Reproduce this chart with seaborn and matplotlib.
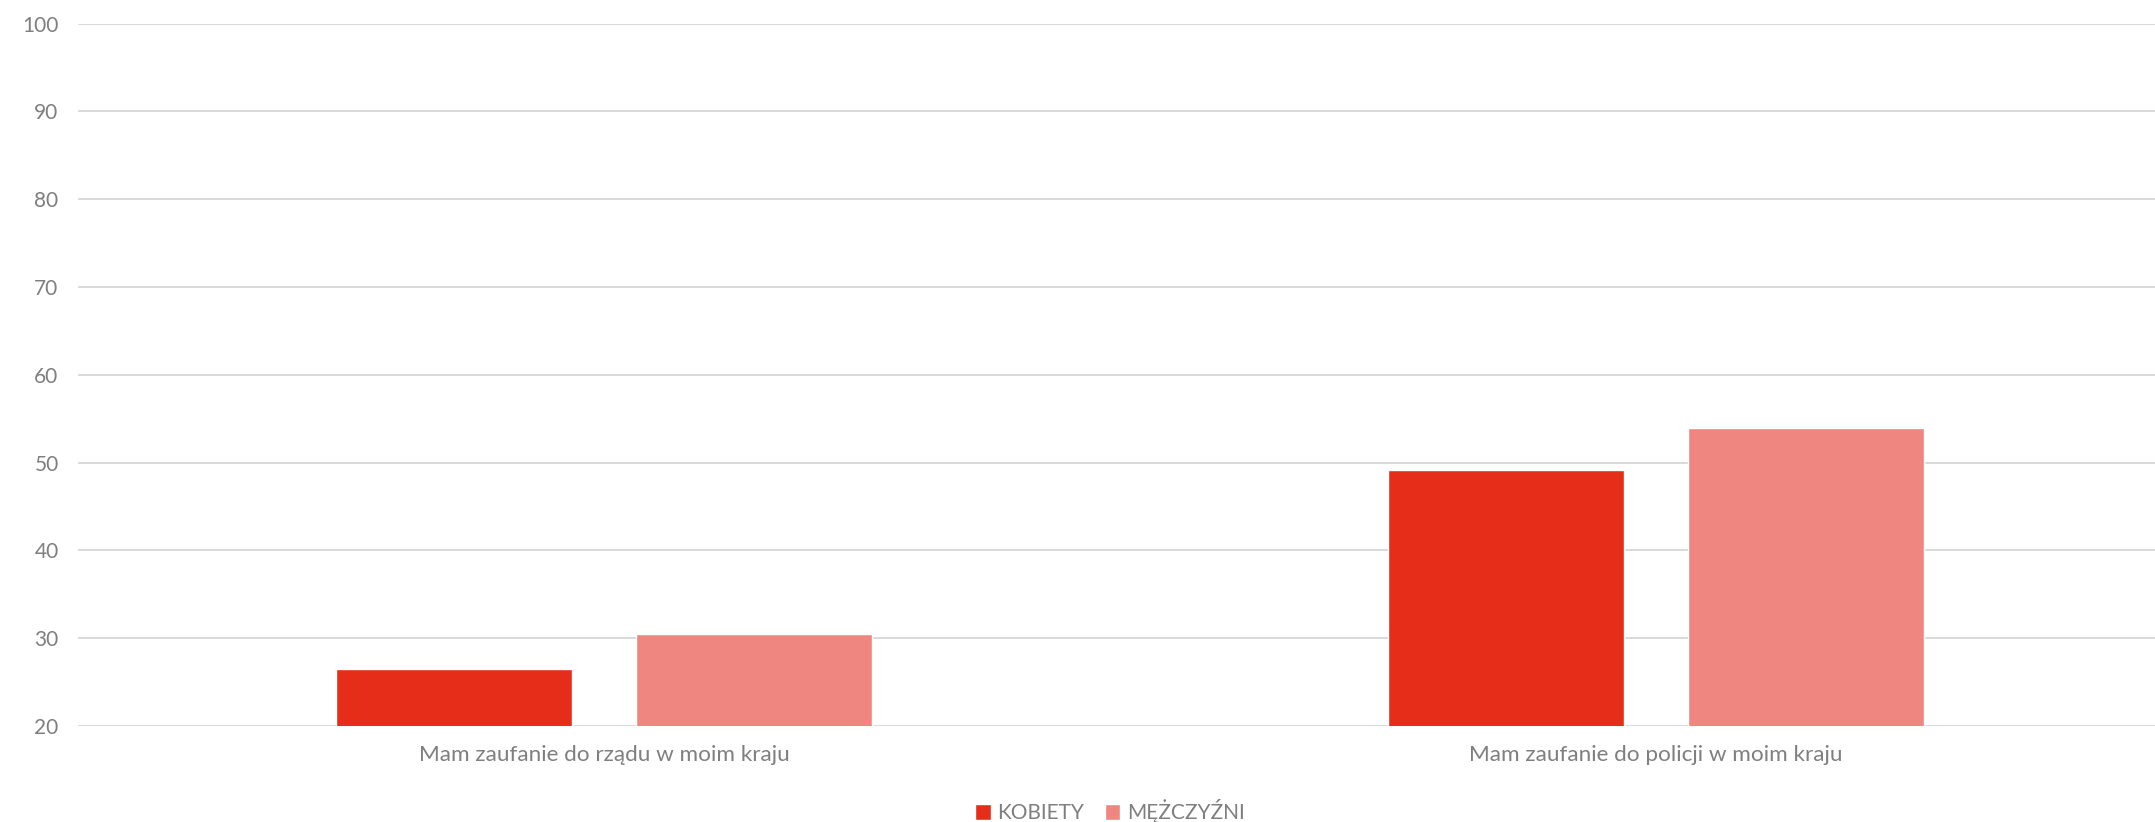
import matplotlib.pyplot as plt
import pandas as pd
import seaborn as sns

categories = ["Mam zaufanie do rządu w moim kraju", "Mam zaufanie do policji w moim kraju"]
series = ["KOBIETY", "MĘŻCZYŹNI"]
kobiety = [26.5, 49.2]
mezczyzni = [30.5, 53.9]
yticks = [20, 30, 40, 50, 60, 70, 80, 90, 100]

colors = {"KOBIETY": "#E52D19", "MĘŻCZYŹNI": "#F08680"}
text_color = "#7F7F7F"

df = pd.DataFrame({
    "kategoria": categories * 2,
    "grupa": [series[0]] * 2 + [series[1]] * 2,
    "wartosc": kobiety + mezczyzni,
})

sns.set_style("white")
plt.rcParams["font.family"] = ["Lato", "DejaVu Sans"]

fig = plt.figure(figsize=(21.55, 8.22), dpi=100)
ax = fig.add_axes([0.0362, 0.1168, 0.9763, 0.8546])

sns.barplot(
    data=df, x="kategoria", y="wartosc", hue="grupa",
    palette=colors, saturation=1, width=0.57, gap=0.214, ax=ax, legend=True,
)

ax.set_ylim(20, 100)
ax.set_xlim(-0.5, 1.5)
ax.set_yticks(yticks)
ax.yaxis.grid(True, color="#D9D9D9", linewidth=1.4)
ax.set_axisbelow(True)
for s in ax.spines.values():
    s.set_visible(False)
ax.tick_params(axis="both", length=0, colors=text_color, labelsize=15)
ax.tick_params(axis="x", pad=14, labelsize=16.2)
ax.tick_params(axis="y", pad=14)
ax.set_xlabel("")
ax.set_ylabel("")

handles, labels = ax.get_legend_handles_labels()
ax.legend(
    handles, labels, loc="center", bbox_to_anchor=(0.515, 0.013),
    bbox_transform=fig.transFigure, ncol=2, frameon=False, fontsize=15,
    handlelength=0.75, handleheight=0.75, handletextpad=0.3, columnspacing=1.0,
    labelcolor=text_color,
)

fig.savefig("out.png", dpi=100)
